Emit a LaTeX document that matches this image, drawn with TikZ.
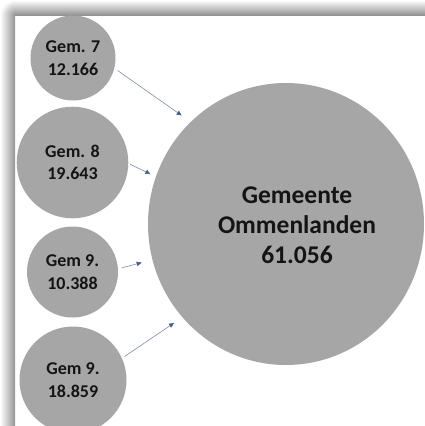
\documentclass[tikz,border=0pt]{standalone}
\usepackage{fontspec}
\setmainfont{Carlito}
\usetikzlibrary{arrows.meta,shapes.geometric}
\definecolor{circgray}{RGB}{166,166,166}
\definecolor{linec}{RGB}{125,143,172}
\definecolor{tipc}{RGB}{70,95,140}
\definecolor{txt}{RGB}{20,20,20}
\begin{document}
\begin{tikzpicture}[x=1pt,y=-1pt,
  small/.style={circle, fill=circgray, inner sep=0pt, align=center, text=txt,
    font=\fontsize{18}{22.5}\selectfont\bfseries},
  bigcirc/.style={ellipse, fill=circgray, inner sep=0pt},
  bigtxt/.style={align=center, text=txt, font=\fontsize{25.5}{30}\selectfont\bfseries},
  conn/.style={draw=linec, line width=0.6pt, -{Triangle[length=5pt,width=4.5pt,color=tipc]}}]
\useasboundingbox (0,0) rectangle (425,426);
\clip (0,0) rectangle (425,426);
\fill[white] (0,0) rectangle (425,426);
% frame shadow
\shade[top color=white, bottom color=black!42] (15,0) rectangle (425,15);
\shade[left color=white, right color=black!42] (0,15) rectangle (15,426);
\begin{scope}
  \clip (0,0) rectangle (15,15);
  \shade[inner color=black!42, outer color=white] (15,15) circle (15);
\end{scope}
% circles
\node[small, minimum size=85pt] (g7) at (73,58) {Gem. 7\\12.166};
\node[small, minimum size=111.6pt] (g8) at (72.5,162.5) {Gem. 8\\19.643};
\node[small, minimum size=91pt] (g9a) at (72.5,272) {Gem 9.\\10.388};
\node[small, minimum size=107pt] (g9b) at (73,380) {Gem 9.\\18.859};
\node[bigcirc, minimum width=276pt, minimum height=282pt] (big) at (286,224) {};
\node[bigtxt] (bigtext) at (297,225) {Gemeente\\Ommenlanden\\61.056};
% arrows
\draw[conn, shorten <=3.8pt, shorten >=11pt] (g7.-14) -- (big.133);
\draw[conn, shorten <=1.7pt, shorten >=6pt] (g8.-1) -- (big.160);
\draw[conn, shorten <=4pt, shorten >=11pt] (g9a.4) -- (big.195);
\draw[conn, shorten <=3pt, shorten >=10pt] (g9b.24) -- (big.222);
\end{tikzpicture}
\end{document}
